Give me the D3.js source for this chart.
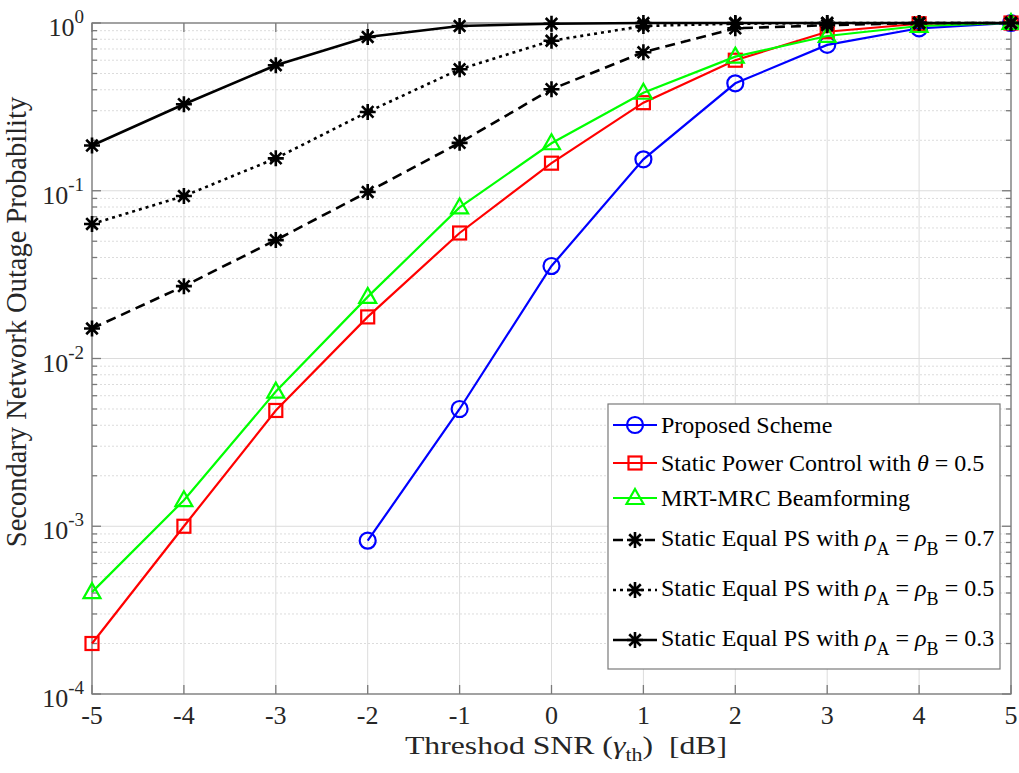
<!DOCTYPE html>
<html>
<head>
<meta charset="utf-8">
<script src="https://cdn.jsdelivr.net/npm/d3@7"></script>
<style>
html,body{margin:0;padding:0;background:#fff;}
svg{display:block;font-family:"Liberation Serif","Times New Roman",serif;}
</style>
</head>
<body>
<svg id="chart" width="1019" height="773"></svg>
<script>
// ---- data ----
const snr = [-5, -4, -3, -2, -1, 0, 1, 2, 3, 4, 5];
const xTicks = [-5, -4, -3, -2, -1, 0, 1, 2, 3, 4, 5];
const yTickExps = [-4, -3, -2, -1, 0];
const proposed   = [null, null, null, 8.2e-4, 5.0e-3, 0.0356, 0.154, 0.437, 0.74, 0.93, 1.0];
const staticPC   = [2.0e-4, 1.0e-3, 4.9e-3, 0.0177, 0.056, 0.146, 0.335, 0.60, 0.887, 0.99, 1.0];
const mrtMrc     = [4.05e-4, 1.43e-3, 6.35e-3, 0.0233, 0.0795, 0.192, 0.384, 0.63, 0.837, 0.96, 1.0];
const equalPS07  = [0.0151, 0.027, 0.0508, 0.0983, 0.193, 0.403, 0.669, 0.93, 0.97, 1.0, 1.0];
const equalPS05  = [0.0634, 0.093, 0.156, 0.295, 0.53, 0.784, 0.96, 0.99, 1.0, 1.0, 1.0];
const equalPS03  = [0.186, 0.328, 0.56, 0.825, 0.96, 0.99, 1.0, 1.0, 1.0, 1.0, 1.0];

const seriesList = [
  {key: "proposed", values: proposed, color: "#0000ff", marker: "circle", dash: null, width: 2.2},
  {key: "staticPC", values: staticPC, color: "#ff0000", marker: "square", dash: null, width: 2.2},
  {key: "mrtMrc", values: mrtMrc, color: "#00ff00", marker: "triangle", dash: null, width: 2.2},
  {key: "ps07", values: equalPS07, color: "#000000", marker: "star", dash: "10,6", width: 2.6},
  {key: "ps05", values: equalPS05, color: "#000000", marker: "star", dash: "3,4", width: 2.6},
  {key: "ps03", values: equalPS03, color: "#000000", marker: "star", dash: null, width: 2.6}
];

// ---- layout ----
const L = 92, R = 1011, T = 23, B = 694;
const svg = d3.select("#chart");
const x = d3.scaleLinear().domain([-5, 5]).range([L, R]);
const y = d3.scaleLog().domain([1e-4, 1]).range([B, T]);

const gridColor = "#dcdcdc";
const axisColor = "#7a7a7a";
const FS = 24;

// grid
const grid = svg.append("g");
xTicks.forEach(t => {
  grid.append("line").attr("x1", x(t)).attr("x2", x(t)).attr("y1", T).attr("y2", B)
    .attr("stroke", gridColor).attr("stroke-width", 1);
});
const minorVals = [];
for (let e = -4; e < 0; e++) for (let m = 2; m <= 9; m++) minorVals.push(m * Math.pow(10, e));
minorVals.forEach(v => {
  grid.append("line").attr("x1", L).attr("x2", R).attr("y1", y(v)).attr("y2", y(v))
    .attr("stroke", gridColor).attr("stroke-width", 1).attr("stroke-dasharray", "2,2");
});
yTickExps.forEach(e => {
  grid.append("line").attr("x1", L).attr("x2", R).attr("y1", y(Math.pow(10, e))).attr("y2", y(Math.pow(10, e)))
    .attr("stroke", gridColor).attr("stroke-width", 1);
});

// axes box and ticks
const ax = svg.append("g").attr("stroke", axisColor).attr("stroke-width", 1.3);
ax.append("rect").attr("x", L).attr("y", T).attr("width", R - L).attr("height", B - T).attr("fill", "none");
xTicks.forEach(t => {
  ax.append("line").attr("x1", x(t)).attr("x2", x(t)).attr("y1", B).attr("y2", B - 9);
  ax.append("line").attr("x1", x(t)).attr("x2", x(t)).attr("y1", T).attr("y2", T + 9);
});
yTickExps.forEach(e => {
  const yy = y(Math.pow(10, e));
  ax.append("line").attr("x1", L).attr("x2", L + 9).attr("y1", yy).attr("y2", yy);
  ax.append("line").attr("x1", R).attr("x2", R - 9).attr("y1", yy).attr("y2", yy);
});
minorVals.forEach(v => {
  const yy = y(v);
  ax.append("line").attr("x1", L).attr("x2", L + 5).attr("y1", yy).attr("y2", yy);
  ax.append("line").attr("x1", R).attr("x2", R - 5).attr("y1", yy).attr("y2", yy);
});

// tick labels
const tl = svg.append("g").attr("fill", "#262626").attr("font-size", 26);
xTicks.forEach(t => {
  tl.append("text").attr("x", x(t)).attr("y", 724).attr("text-anchor", "middle").text(t);
});
yTickExps.forEach(e => {
  const yy = y(Math.pow(10, e));
  const txt = tl.append("text").attr("x", 84).attr("y", yy + 13).attr("text-anchor", "end");
  txt.append("tspan").text("10");
  txt.append("tspan").attr("font-size", 19).attr("dy", -13).text(e);
});

// axis labels
const xl = svg.append("g").attr("transform", "translate(566,754) scale(1.22,1)")
  .append("text").attr("x", 0).attr("y", 0).attr("text-anchor", "middle")
  .attr("font-size", 26).attr("fill", "#262626").style("white-space", "pre");
xl.append("tspan").text("Threshod SNR (");
xl.append("tspan").attr("font-style", "italic").text("\u03b3");
xl.append("tspan").attr("font-size", 18).attr("dy", 7).text("th");
xl.append("tspan").attr("dy", -7).text(")  [dB]");

svg.append("text").attr("transform", "translate(26,322) rotate(-90)").attr("text-anchor", "middle")
  .attr("font-size", 28.5).attr("fill", "#262626").text("Secondary Network Outage Probability");

// markers
function drawMarker(g, kind, cx, cy, color) {
  if (kind === "circle") {
    g.append("circle").attr("cx", cx).attr("cy", cy).attr("r", 8)
      .attr("fill", "none").attr("stroke", color).attr("stroke-width", 2.2);
  } else if (kind === "square") {
    g.append("rect").attr("x", cx - 6.5).attr("y", cy - 6.5).attr("width", 13).attr("height", 13)
      .attr("fill", "none").attr("stroke", color).attr("stroke-width", 2.2);
  } else if (kind === "triangle") {
    g.append("path").attr("d", `M${cx},${cy - 9}L${cx + 8.5},${cy + 6}L${cx - 8.5},${cy + 6}Z`)
      .attr("fill", "none").attr("stroke", color).attr("stroke-width", 2.2);
  } else if (kind === "star") {
    const r = 8, d = r * 0.72;
    g.append("path").attr("d",
      `M${cx - r},${cy}L${cx + r},${cy}M${cx},${cy - r}L${cx},${cy + r}` +
      `M${cx - d},${cy - d}L${cx + d},${cy + d}M${cx - d},${cy + d}L${cx + d},${cy - d}`)
      .attr("fill", "none").attr("stroke", color).attr("stroke-width", 2.6);
  }
}

const lineGen = d3.line()
  .defined(d => d.v !== null)
  .x(d => x(d.x)).y(d => y(d.v));

const plot = svg.append("g");
seriesList.forEach(s => {
  const pts = snr.map((xv, i) => ({x: xv, v: s.values[i]}));
  plot.append("path").datum(pts).attr("d", lineGen).attr("fill", "none")
    .attr("stroke", s.color).attr("stroke-width", s.width)
    .attr("stroke-dasharray", s.dash);
  const mg = plot.append("g");
  pts.filter(p => p.v !== null).forEach(p => drawMarker(mg, s.marker, x(p.x), y(p.v), s.color));
});

// legend
const lg = svg.append("g");
lg.append("rect").attr("x", 608).attr("y", 404).attr("width", 392).attr("height", 265)
  .attr("fill", "#fff").attr("stroke", axisColor).attr("stroke-width", 1.2);
const legRows = [
  {s: 0, y: 425, label: [{t: "Proposed Scheme"}]},
  {s: 1, y: 463, label: [{t: "Static Power Control with "}, {t: "\u03b8", it: true}, {t: " = 0.5"}]},
  {s: 2, y: 498, label: [{t: "MRT-MRC Beamforming"}]},
  {s: 3, y: 538, label: [{t: "Static Equal PS with "}, {t: "\u03c1", it: true}, {t: "A", sub: true}, {t: " = "}, {t: "\u03c1", it: true}, {t: "B", sub: true}, {t: " = 0.7"}]},
  {s: 4, y: 588, label: [{t: "Static Equal PS with "}, {t: "\u03c1", it: true}, {t: "A", sub: true}, {t: " = "}, {t: "\u03c1", it: true}, {t: "B", sub: true}, {t: " = 0.5"}]},
  {s: 5, y: 638, label: [{t: "Static Equal PS with "}, {t: "\u03c1", it: true}, {t: "A", sub: true}, {t: " = "}, {t: "\u03c1", it: true}, {t: "B", sub: true}, {t: " = 0.3"}]}
];
legRows.forEach(row => {
  const s = seriesList[row.s];
  const my = row.s >= 3 ? row.y + 2 : row.y;
  lg.append("line").attr("x1", 613).attr("x2", 657).attr("y1", my).attr("y2", my)
    .attr("stroke", s.color).attr("stroke-width", s.width).attr("stroke-dasharray", s.dash);
  drawMarker(lg, s.marker, 635, my, s.color);
  const t = lg.append("text").attr("x", 661).attr("y", row.y + 8).attr("font-size", FS).attr("fill", "#000")
    .style("white-space", "pre");
  let sub = false;
  row.label.forEach(p => {
    const ts = t.append("tspan").text(p.t);
    if (p.it) ts.attr("font-style", "italic");
    if (p.sub && !sub) { ts.attr("dy", 9).attr("font-size", 18); sub = true; }
    else if (!p.sub && sub) { ts.attr("dy", -9); sub = false; }
  });
});
</script>
</body>
</html>
